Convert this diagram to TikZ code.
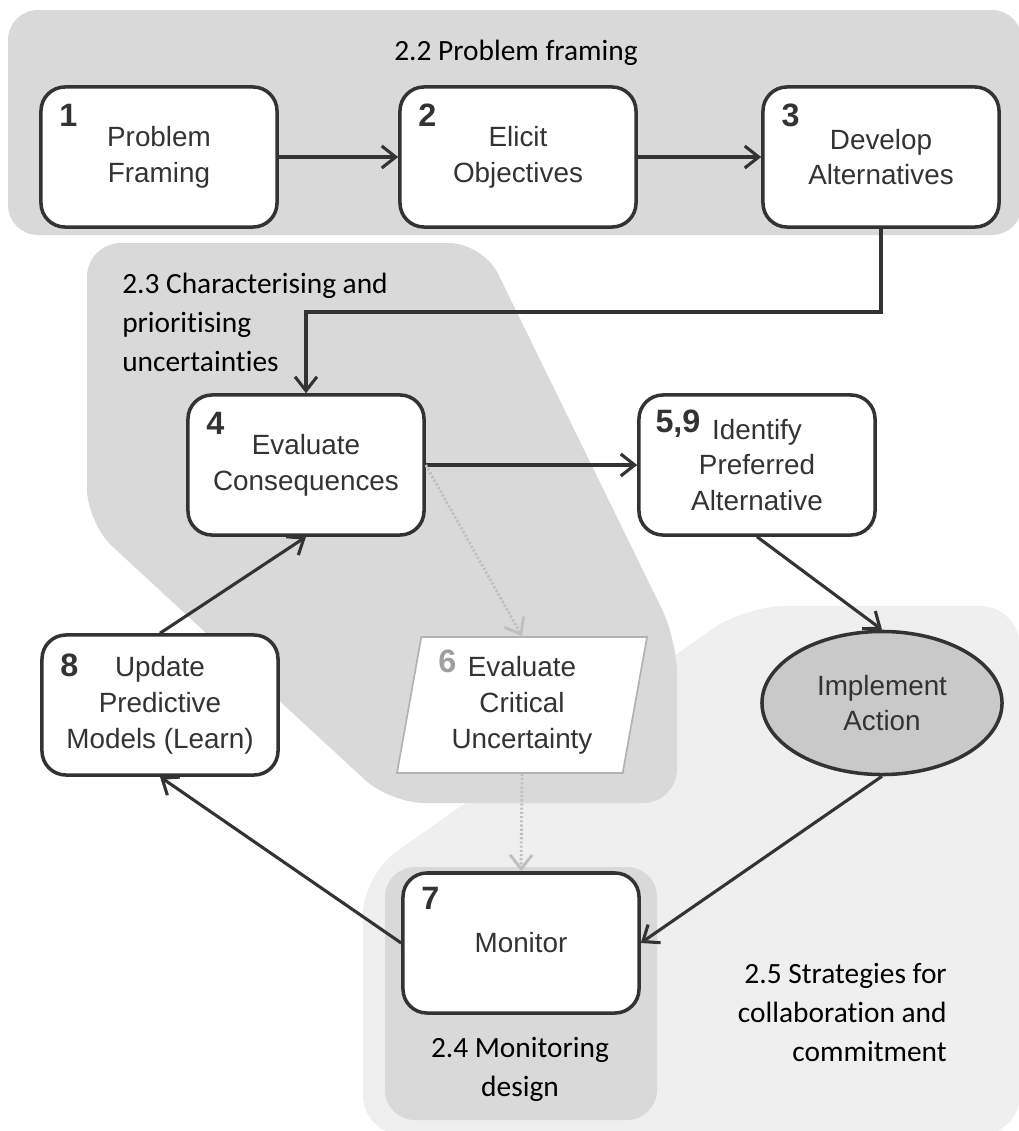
\documentclass[tikz,border=0pt]{standalone}
\usepackage{fontspec}
\setmainfont{Carlito}[Ligatures=NoCommon]
\newfontfamily\arialfont{Liberation Sans}
\usetikzlibrary{shapes.geometric,arrows.meta}
\definecolor{regiongray}{HTML}{D9D9D9}
\definecolor{paleregion}{HTML}{EFEFEF}
\definecolor{linegray}{HTML}{333333}
\definecolor{actiongray}{HTML}{C9C9C9}
\tikzset{
	stepbox/.style={draw=linegray, line width=2.5pt, fill=white, rounded corners=0.6cm,
		minimum width=5.9cm, minimum height=3.5cm, inner sep=0pt, align=center,
		text=linegray, font=\arialfont\fontsize{19.8}{25.5}\selectfont},
	critbox/.style={trapezium, trapezium left angle=76, trapezium right angle=104,
		trapezium stretches body, draw=gray!60, line width=1.2pt, fill=white,
		minimum width=6.25cm, minimum height=3.4cm, inner sep=0pt, align=center,
		text=linegray, font=\arialfont\fontsize{19.8}{25.5}\selectfont},
	actbox/.style={ellipse, draw=linegray, line width=2.5pt, fill=actiongray,
		minimum width=6cm, minimum height=3.575cm, inner sep=0pt, align=center,
		text=linegray, font=\arialfont\fontsize{19.8}{25.5}\selectfont},
	stepnum/.style={anchor=west, inner sep=0pt, text=linegray,
		font=\arialfont\bfseries\fontsize{23}{26}\selectfont},
	region/.style={inner sep=0pt, font=\fontsize{20.9}{27.7}\selectfont},
	flow/.style={draw=linegray, line width=2.2pt, -{Straight Barb[length=3.5mm,width=5.5mm]}},
	dotflow/.style={draw=gray!50, line width=2pt, dash pattern=on 1.5pt off 1.5pt, -{Straight Barb[length=3.5mm,width=5.5mm]}},
}
\begin{document}
\begin{tikzpicture}[x=0.025cm,y=-0.025cm]
	\useasboundingbox (0,0) rectangle (1019,1131);

	\fill[paleregion, rounded corners=1cm] (363,1135) -- (363,875) -- (745,606) -- (1020,606) -- (1020,1135) -- cycle;
	\fill[regiongray, rounded corners=0.75cm] (8,10) rectangle (1022,235);
	\fill[regiongray, rounded corners=0.85cm] (87,243) -- (483,243) -- (677,640) -- (677,803) -- (390,803) -- (87,523) -- cycle;
	\fill[regiongray, rounded corners=0.75cm] (385,867) rectangle (657,1120);

	\node[region] (t22) at (516,53) {2.2 Problem framing};
	\node[region, anchor=north west, align=left] (t23) at (122,273) {2.3 Characterising and\\prioritising\\uncertainties};
	\node[region, align=center] (t24) at (520,1069) {2.4 Monitoring\\design};
	\node[region, anchor=north east, align=right] (t25) at (947,963) {2.5 Strategies for\\collaboration and\\commitment};

	\node[stepbox] (b1) at (159,157) {Problem\\Framing};
	\node[stepbox] (b2) at (518,157) {Elicit\\Objectives};
	\node[stepbox] (b3) at (881,157) {Develop\\Alternatives};
	\node[stepbox] (b4) at (306,465) {Evaluate\\Consequences};
	\node[stepbox] (b59) at (757,465) {Identify\\Preferred\\Alternative};
	\node[critbox] (b6) at (522,705) {Evaluate\\Critical\\Uncertainty};
	\node[stepbox] (b8) at (160,705) {Update\\Predictive\\Models (Learn)};
	\node[stepbox] (b7) at (521,943) {Monitor};
	\node[actbox] (act) at (882,703) {Implement\\Action};

	\node[stepnum] (n1) at ([shift={(20,30)}]b1.north west) {1};
	\node[stepnum] (n2) at ([shift={(20,30)}]b2.north west) {2};
	\node[stepnum] (n3) at ([shift={(20,30)}]b3.north west) {3};
	\node[stepnum] (n4) at ([shift={(20,30)}]b4.north west) {4};
	\node[stepnum] (n59) at ([shift={(18,30)}]b59.north west) {5,9};
	\node[stepnum, text=gray!75] (n6) at ([shift={(-84,-44)}]b6.center) {6};
	\node[stepnum] (n8) at ([shift={(20,32)}]b8.north west) {8};
	\node[stepnum] (n7) at ([shift={(20,27)}]b7.north west) {7};

	\coordinate (bend) at (881,312);
	\draw[flow] (b1) -- (b2);
	\draw[flow] (b2) -- (b3);
	\draw[flow] (b3.south) -- (bend) -| (b4.north);
	\draw[flow] (b4) -- (b59);
	\draw[flow] (b59.south) -- (act.north);
	\draw[flow] (act.south) -- (b7.east);
	\draw[flow] (b7.west) -- (b8.south);
	\draw[flow] (b8.north) -- (b4.south);
	\draw[dotflow] (b4.east) -- (b6.north);
	\draw[dotflow] (b6.south) -- (b7.north);

\end{tikzpicture}
\end{document}
